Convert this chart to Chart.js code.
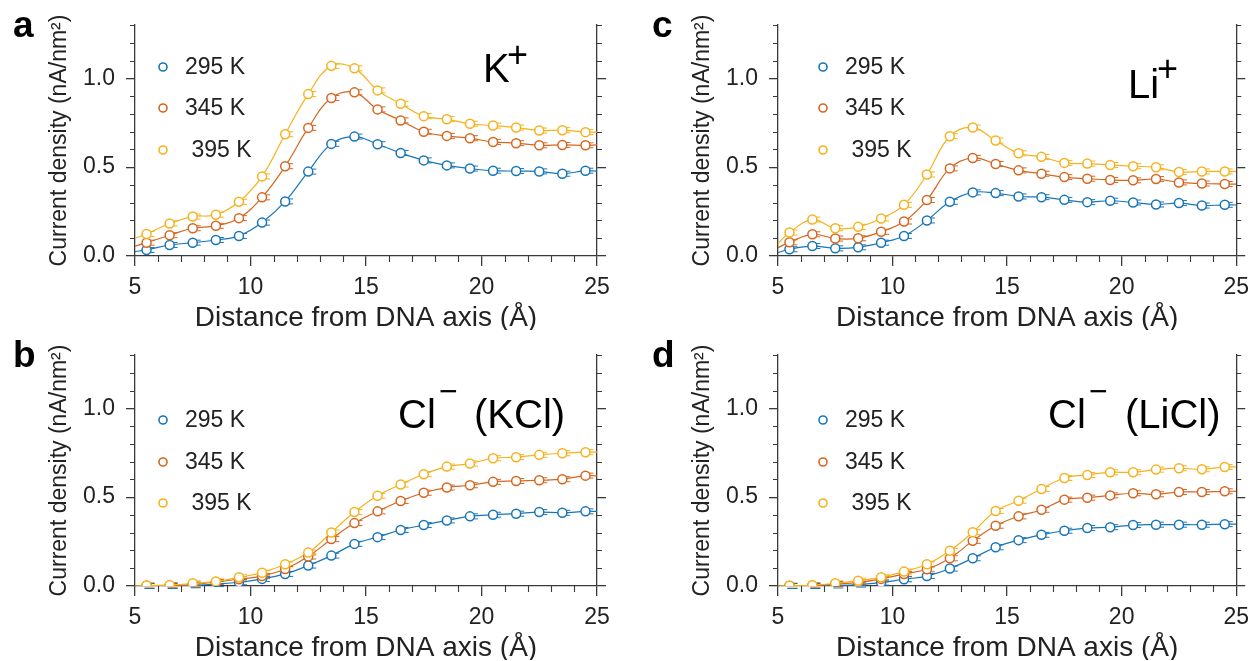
<!DOCTYPE html>
<html>
<head>
<meta charset="utf-8">
<script src="https://cdn.jsdelivr.net/npm/chart.js@4.4.1/dist/chart.umd.min.js"></script>
<style>
html,body{margin:0;padding:0;background:#fff;overflow:hidden}
body{width:1257px;height:661px;position:relative}
canvas{position:absolute;display:block}
</style>
</head>
<body>
<canvas id="pa" width="628" height="330" style="left:0;top:0"></canvas>
<canvas id="pb" width="628" height="330" style="left:0;top:330px"></canvas>
<canvas id="pc" width="614" height="330" style="left:643px;top:0"></canvas>
<canvas id="pd" width="614" height="330" style="left:643px;top:330px"></canvas>
<script>
// distance from DNA axis (Å) of each sampled shell
const distance = [5.5,6.5,7.5,8.5,9.5,10.5,11.5,12.5,13.5,14.5,15.5,16.5,17.5,18.5,19.5,20.5,21.5,22.5,23.5,24.5];
const fitEnds = [5, 25];
const tempLabels = ['295 K', '345 K', ' 395 K'];
const tempColors = ['#1876B8', '#D6661F', '#F6B21C'];

const xTicks = [5, 10, 15, 20, 25];
const xMinor = [6,7,8,9,11,12,13,14,16,17,18,19,21,22,23,24];
const yTicks = [0, 0.5, 1.0];
const yMinor = [0.1,0.2,0.3,0.4,0.6,0.7,0.8,0.9,1.1,1.2,1.3];

// a: K+
const k295 = [0.034,0.062,0.075,0.09,0.113,0.188,0.307,0.475,0.631,0.672,0.629,0.58,0.538,0.51,0.492,0.48,0.478,0.476,0.463,0.48];
const k345 = [0.075,0.117,0.156,0.17,0.213,0.33,0.505,0.721,0.889,0.921,0.825,0.763,0.699,0.676,0.663,0.642,0.635,0.623,0.625,0.623];
const k395 = [0.124,0.183,0.222,0.232,0.305,0.448,0.685,0.911,1.07,1.056,0.932,0.857,0.787,0.77,0.744,0.734,0.723,0.706,0.708,0.697];
const kFit = [[0.025,0.478],[0.056,0.625],[0.1,0.697]];

// c: Li+
const li295 = [0.038,0.056,0.043,0.049,0.075,0.113,0.2,0.305,0.358,0.354,0.335,0.331,0.316,0.303,0.311,0.301,0.29,0.298,0.284,0.288];
const li345 = [0.077,0.122,0.098,0.1,0.136,0.194,0.315,0.493,0.552,0.518,0.482,0.463,0.444,0.435,0.428,0.426,0.433,0.414,0.408,0.405];
const li395 = [0.132,0.205,0.156,0.164,0.211,0.288,0.459,0.674,0.723,0.65,0.578,0.558,0.524,0.52,0.512,0.505,0.499,0.473,0.476,0.476];
const liFit = [[0.019,0.287],[0.047,0.404],[0.072,0.476]];

// b: Cl- (KCl)
const clk295 = [0.0,0.0,0.004,0.011,0.021,0.04,0.068,0.115,0.171,0.237,0.275,0.315,0.343,0.369,0.392,0.401,0.407,0.416,0.412,0.42];
const clk345 = [0.002,0.003,0.008,0.023,0.038,0.056,0.096,0.166,0.264,0.354,0.42,0.478,0.525,0.554,0.567,0.586,0.591,0.595,0.601,0.621];
const clk395 = [0.003,0.005,0.015,0.026,0.049,0.075,0.122,0.188,0.301,0.416,0.508,0.571,0.629,0.672,0.689,0.719,0.725,0.738,0.747,0.753];
const clkFit = [[0,0.42],[0,0.62],[0,0.753]];

// d: Cl- (LiCl)
const cll295 = [0.0,0.0,0.003,0.008,0.019,0.038,0.056,0.098,0.156,0.218,0.258,0.288,0.311,0.326,0.331,0.343,0.345,0.345,0.345,0.348];
const cll345 = [0.001,0.003,0.011,0.02,0.04,0.068,0.094,0.156,0.254,0.339,0.392,0.429,0.486,0.497,0.51,0.522,0.516,0.529,0.529,0.533];
const cll395 = [0.002,0.004,0.015,0.03,0.049,0.081,0.122,0.198,0.303,0.422,0.48,0.546,0.608,0.625,0.64,0.64,0.655,0.663,0.657,0.67];
const cllFit = [[0,0.348],[0,0.533],[0,0.67]];

const FONT = '"Liberation Sans", Arial, Helvetica, sans-serif';
const axisColor = '#3a3a3a';
const textColor = '#222';
Chart.defaults.font.family = FONT;
Chart.defaults.color = textColor;

// short minor ticks, outward like the major ones
const minorTicks = {
  id: 'minorTicks',
  afterDraw(chart){
    const {ctx, chartArea: a, scales: {x, y}} = chart;
    ctx.save(); ctx.strokeStyle = axisColor; ctx.lineWidth = 1.1; ctx.beginPath();
    xMinor.forEach(v => { const px = Math.round(x.getPixelForValue(v)) + 0.5; ctx.moveTo(px, a.bottom); ctx.lineTo(px, a.bottom + 6); });
    yMinor.forEach(v => {
      const py = Math.round(y.getPixelForValue(v)) + 0.5;
      ctx.moveTo(a.left - 5, py); ctx.lineTo(a.left, py);
      ctx.moveTo(a.right, py); ctx.lineTo(a.right + 5, py);
    });
    ctx.stroke(); ctx.restore();
  }
};

// tiny error caps next to each marker (drawn under the white-filled circles)
const errCaps = {
  id: 'errCaps',
  beforeDatasetsDraw(chart){
    const ctx = chart.ctx;
    ctx.save(); ctx.lineWidth = 1;
    chart.data.datasets.forEach((ds, i) => {
      if (!ds.label) return;
      ctx.strokeStyle = ds.pointBorderColor;
      chart.getDatasetMeta(i).data.forEach(p => {
        ctx.beginPath();
        ctx.moveTo(p.x - 2, p.y - 2.5); ctx.lineTo(p.x + 8, p.y - 2.5);
        ctx.moveTo(p.x - 2, p.y + 2.5); ctx.lineTo(p.x + 8, p.y + 2.5);
        ctx.stroke();
      });
    });
    ctx.restore();
  }
};

// legend placed inside the plot, in temperature order
const inLegend = {
  id: 'inLegend',
  afterDraw(chart, args, opts){
    const ctx = chart.ctx;
    const cx = chart.chartArea.left + opts.dx;
    ctx.save();
    ctx.font = '23px ' + FONT; ctx.textBaseline = 'middle'; ctx.textAlign = 'left';
    tempLabels.forEach((lab, i) => {
      const ds = chart.data.datasets.find(d => d.label === lab);
      const cy = opts.ys[i];
      ctx.beginPath(); ctx.arc(cx, cy, 4, 0, Math.PI * 2);
      ctx.lineWidth = 1.6; ctx.strokeStyle = ds.pointBorderColor; ctx.stroke();
      ctx.fillStyle = textColor; ctx.fillText(ds.label, cx + 22, cy + 1);
    });
    ctx.restore();
  }
};

// panel letter and ion annotation
const panelText = {
  id: 'panelText',
  afterDraw(chart, args, opts){
    const ctx = chart.ctx;
    ctx.save(); ctx.fillStyle = '#000'; ctx.textBaseline = 'alphabetic'; ctx.textAlign = 'left';
    opts.items.forEach(it => {
      ctx.font = (it.bold ? 'bold ' : '') + it.s + 'px ' + FONT;
      ctx.fillText(it.t, it.x, it.y);
    });
    ctx.restore();
  }
};

function buildDatasets(series, fits){
  const points = [], lines = [];
  series.forEach((vals, i) => {
    const pts = distance.map((d, j) => ({x: d, y: vals[j]}));
    points.push({
      label: tempLabels[i], data: pts, showLine: false,
      pointRadius: 4.5, pointBorderWidth: 1.5, pointBackgroundColor: '#fff',
      pointBorderColor: tempColors[i], borderColor: tempColors[i]
    });
    lines.push({
      data: [{x: fitEnds[0], y: fits[i][0]}, ...pts, {x: fitEnds[1], y: fits[i][1]}],
      borderColor: tempColors[i], borderWidth: 1.2, pointRadius: 0, tension: 0.4, fill: false
    });
  });
  // dataset 0 is painted last in Chart.js, so markers go first
  return points.reverse().concat(lines.reverse());
}

function tickList(list){ return s => { s.ticks = list.map(v => ({value: v})); }; }

function makePanel(id, series, fits, rightW, legendDx, legendYs, items){
  const grid = {drawOnChartArea: false, color: axisColor, lineWidth: 1.3};
  const border = {color: axisColor, width: 1.3};
  new Chart(document.getElementById(id), {
    type: 'line',
    data: {datasets: buildDatasets(series, fits)},
    options: {
      responsive: false, animation: false, events: [],
      layout: {padding: {top: 25, left: 0, right: 0, bottom: 0}},
      plugins: {legend: {display: false}, tooltip: {enabled: false},
        inLegend: {dx: legendDx, ys: legendYs}, panelText: {items}},
      scales: {
        x: {type: 'linear', min: 5, max: 25, afterBuildTicks: tickList(xTicks),
          ticks: {font: {size: 23}, color: textColor, padding: 8, maxRotation: 0, autoSkip: false, callback: v => String(v)},
          grid: Object.assign({tickLength: 10}, grid), border,
          title: {display: true, text: 'Distance from DNA axis (Å)', color: textColor, font: {size: 28, lineHeight: 0.85}, padding: 0},
          afterFit: s => { s.height = 74; }},
        y: {type: 'linear', position: 'left', min: 0, max: 1.3, afterBuildTicks: tickList(yTicks),
          ticks: {font: {size: 23}, color: textColor, padding: 11, callback: v => v.toFixed(1)},
          grid: Object.assign({tickLength: 9}, grid), border,
          title: {display: true, text: 'Current density (nA/nm²)', color: textColor, font: {size: 23, lineHeight: 1.2}, padding: {top: 46, bottom: 0}},
          afterFit: s => { s.width = 135; }},
        y2: {type: 'linear', position: 'right', min: 0, max: 1.3, afterBuildTicks: tickList(yTicks),
          ticks: {display: false},
          grid: Object.assign({tickLength: 9}, grid), border,
          afterFit: s => { s.width = rightW; }}
      }
    },
    plugins: [errCaps, minorTicks, inLegend, panelText]
  });
}

const topLegend = [67, 108, 150];
const botLegend = [90, 132, 173];

makePanel('pa', [k295, k345, k395], kFit, 31, 28, topLegend, [
  {t: 'a', x: 13, y: 37, s: 37, bold: true},
  {t: 'K', x: 483, y: 82, s: 40}, {t: '+', x: 507, y: 67, s: 36}]);
makePanel('pb', [clk295, clk345, clk395], clkFit, 31, 28, botLegend, [
  {t: 'b', x: 13, y: 37, s: 37, bold: true},
  {t: 'Cl', x: 398, y: 98, s: 40}, {t: '−', x: 439, y: 72, s: 32}, {t: '(KCl)', x: 474, y: 98, s: 40}]);
makePanel('pc', [li295, li345, li395], liFit, 16, 45, topLegend, [
  {t: 'c', x: 9, y: 37, s: 37, bold: true},
  {t: 'Li', x: 485, y: 98, s: 40}, {t: '+', x: 514, y: 81, s: 36}]);
makePanel('pd', [cll295, cll345, cll395], cllFit, 16, 45, botLegend, [
  {t: 'd', x: 9, y: 37, s: 37, bold: true},
  {t: 'Cl', x: 405, y: 98, s: 40}, {t: '−', x: 446, y: 72, s: 32}, {t: '(LiCl)', x: 482, y: 98, s: 40}]);
</script>
</body>
</html>
